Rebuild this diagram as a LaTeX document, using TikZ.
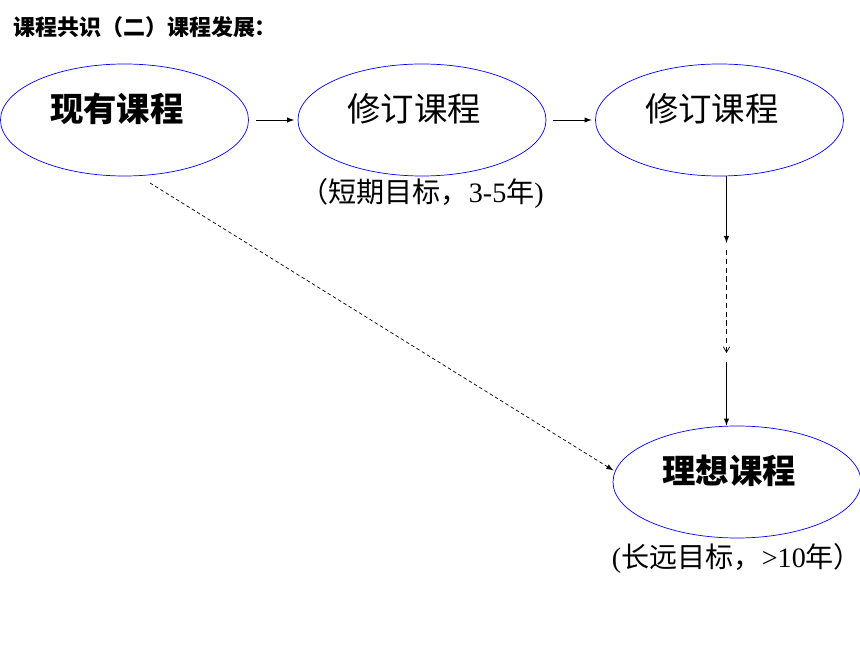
\documentclass[tikz,border=0pt]{standalone}
\usepackage{fontspec}
\setmainfont{Liberation Serif}
\newfontfamily\cjk{Noto Sans CJK SC}
\usepackage{tikz}
\usetikzlibrary{shapes,arrows}
\tikzstyle{course}=[ellipse, draw=blue, thin, inner sep=0pt,
        minimum width=4.96cm, minimum height=2.24cm, text depth=14pt,
        text width=2.98cm, align=left,
        font=\fontsize{19}{21}\selectfont\cjk]
\tikzstyle{boldcourse}=[course, font=\fontsize{19}{21}\selectfont\cjk\bfseries]
\tikzstyle{note}=[inner sep=0pt, font=\fontsize{16}{18}\selectfont]
\tikzstyle{headline}=[inner sep=0pt, font=\fontsize{12.5}{14}\selectfont\cjk\bfseries]

\begin{document}
\begin{tikzpicture}
      [node distance = 1cm, auto, every node/.style={node distance=5.95cm}]
      \useasboundingbox (0,0) rectangle (17.2,12.9);
      % Place nodes
      \node [headline, anchor=west] (head) at (0.26,12.36) {课程共识（二）课程发展：};
      \node [boldcourse] (now) at (2.49,10.5) {现有课程};
      \node [course, right of=now] (rev1) {修订课程};
      \node [course, right of=rev1] (rev2) {修订课程};
      \node [boldcourse, below of=rev2, node distance=7.24cm, xshift=0.35cm] (ideal) {理想课程};
      \node [note, below of=rev1, node distance=1.46cm] (short) {{\cjk （短期目标，}3-5{\cjk 年})};
      \node [note, below of=ideal, node distance=1.52cm] (long) {({\cjk 长远目标，}>10{\cjk 年）}};
      % Break points of the long arrow
      \coordinate (v1) at (14.53,8.04);
      \coordinate (v2) at (14.53,7.90);
      \coordinate (v3) at (14.53,5.84);
      \coordinate (v4) at (14.53,5.66);
      \coordinate (d0) at (3.0,9.24);
      % Draw edges
      \draw [-latex, thin, shorten <=4pt, shorten >=2pt] (now) -- (rev1);
      \draw [-latex, thin, shorten <=4pt, shorten >=2pt] (rev1) -- (rev2);
      \draw [-latex, thin] (v1 |- rev2.south) -- (v1);
      \draw [-{angle 60[scale=1.6]}, thin, dash pattern=on 3pt off 2pt] (v2) -- (v3);
      \draw [-latex, thin] (v4) -- (v4 |- ideal.north);
      \draw [-latex, thin, dash pattern=on 2pt off 1.5pt, shorten >=1pt] (d0) -- (ideal.175);
\end{tikzpicture}
\end{document}
